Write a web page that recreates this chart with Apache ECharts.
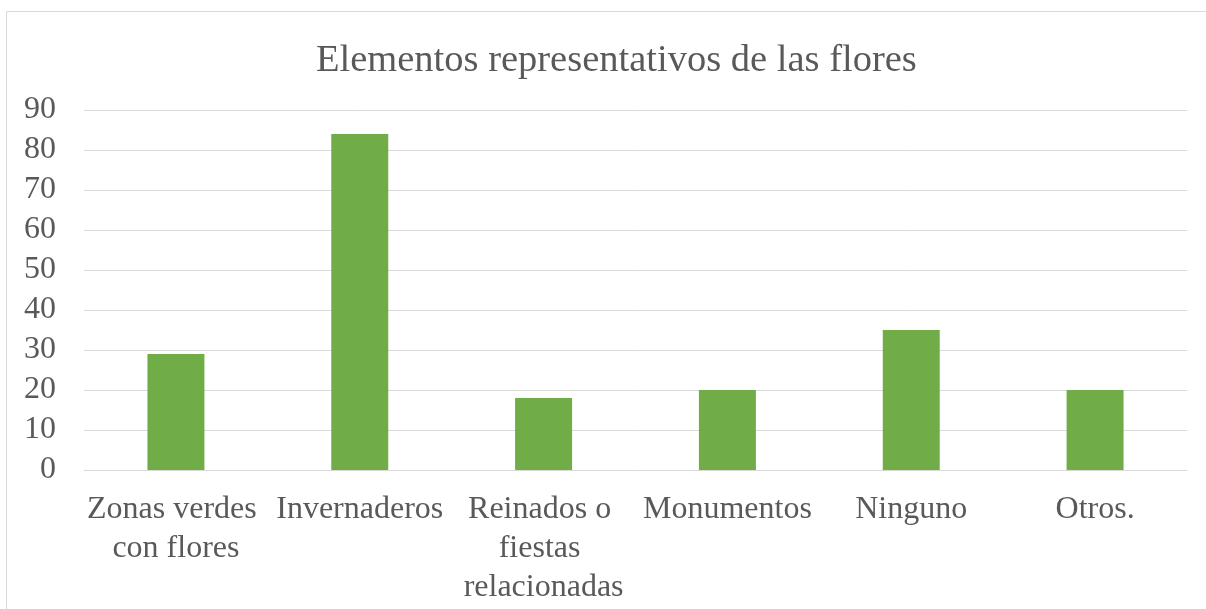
<!DOCTYPE html>
<html>
<head>
<meta charset="utf-8">
<script src="https://cdn.jsdelivr.net/npm/echarts@6/dist/echarts.min.js"></script>
<style>
	html, body { margin: 0; padding: 0; background: #fff; }
	#chart { width: 1206px; height: 609px; }
</style>
</head>
<body>
<div id="chart"></div>
<script>
var categories = ['Zonas verdes con flores', 'Invernaderos', 'Reinados o fiestas relacionadas', 'Monumentos', 'Ninguno', 'Otros.'];
var values = [29, 84, 18, 20, 35, 20];
var titleText = 'Elementos representativos de las flores';

var serif = '"Liberation Serif", "DejaVu Serif", serif';
var textColor = '#595959';

var chart = echarts.init(document.getElementById('chart'));
chart.setOption({
	animation: false,
	title: {
		text: titleText,
		left: 311,
		top: 36,
		textStyle: {
			fontFamily: serif,
			fontWeight: 'normal',
			fontSize: 38.5,
			color: textColor
		}
	},
	// outer frame of the chart area
	graphic: [{
		type: 'rect',
		shape: { x: 6.5, y: 11.5, width: 1220, height: 620 },
		style: { fill: null, stroke: '#d9d9d9', lineWidth: 1 },
		silent: true
	}],
	grid: {
		left: 84,
		right: 19,
		top: 110,
		bottom: 139
	},
	xAxis: {
		type: 'category',
		data: categories,
		axisLine: { lineStyle: { color: '#d9d9d9', width: 1 } },
		axisTick: { show: false },
		axisLabel: {
			interval: 0,
			margin: 20,
			width: 182,
			overflow: 'break',
			lineHeight: 39,
			fontFamily: serif,
			fontSize: 32,
			color: textColor
		}
	},
	yAxis: {
		type: 'value',
		min: 0,
		max: 90,
		interval: 10,
		axisLine: { show: false },
		axisTick: { show: false },
		splitLine: { lineStyle: { color: '#d9d9d9', width: 1 } },
		axisLabel: {
			margin: 28,
			fontFamily: serif,
			fontSize: 32,
			color: textColor
		}
	},
	series: [{
		type: 'bar',
		data: values,
		barWidth: '31%',
		itemStyle: { color: '#70AD47' }
	}]
});
</script>
</body>
</html>
